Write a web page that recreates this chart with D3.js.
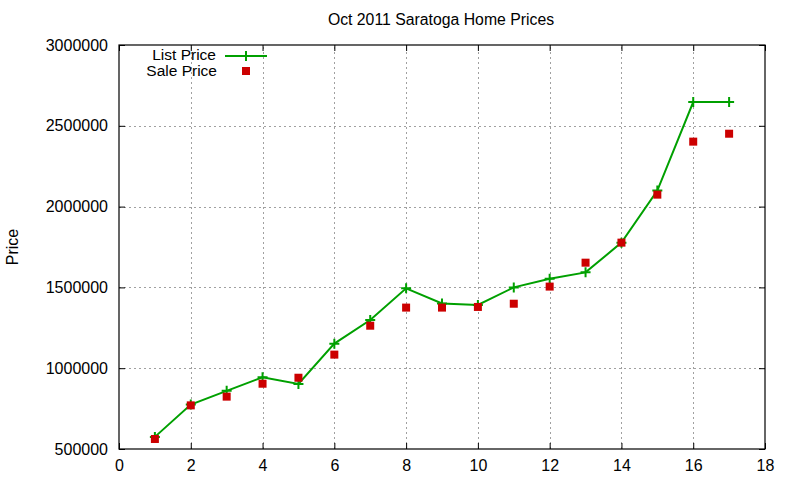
<!DOCTYPE html>
<html>
<head>
<meta charset="utf-8">
<script src="https://cdn.jsdelivr.net/npm/d3@7/dist/d3.min.js"></script>
<style>
  body { margin: 0; background: #fff; }
  text { font-family: "Liberation Sans", Arial, sans-serif; fill: #000; }
</style>
</head>
<body>
<div id="chart"></div>
<script>
// Data
const homes = [1, 2, 3, 4, 5, 6, 7, 8, 9, 10, 11, 12, 13, 14, 15, 16, 17];
const listPrice = [575000, 775000, 860000, 944000, 902000, 1152000, 1298000, 1494000, 1401000, 1391000,
                   1500000, 1554000, 1593000, 1777000, 2099000, 2647000, 2647000];
const salePrice = [562000, 770000, 824000, 904000, 941000, 1084000, 1263000, 1375000, 1375000, 1379000,
                   1399000, 1505000, 1653000, 1777000, 2074000, 2402000, 2451000];
const xTicks = [0, 2, 4, 6, 8, 10, 12, 14, 16, 18];
const yTicks = [500000, 1000000, 1500000, 2000000, 2500000, 3000000];

const W = 800, H = 480;
const margin = { top: 45, right: 35, bottom: 31, left: 119 };

const svg = d3.select("#chart").append("svg")
    .attr("width", W)
    .attr("height", H);

const x = d3.scaleLinear().domain([0, 18]).range([margin.left, W - margin.right]);
const y = d3.scaleLinear().domain([500000, 3000000]).range([H - margin.bottom, margin.top]);

// Grid
const grid = svg.append("g")
    .attr("stroke", "#a0a0a0")
    .attr("stroke-width", 1)
    .attr("stroke-dasharray", "2,3");

grid.selectAll(".gx")
    .data(xTicks.slice(1, -1))
    .enter().append("line")
    .attr("x1", d => Math.round(x(d)) + 0.5).attr("x2", d => Math.round(x(d)) + 0.5)
    .attr("y1", y(500000)).attr("y2", y(3000000));

grid.selectAll(".gy")
    .data(yTicks.slice(1, -1))
    .enter().append("line")
    .attr("y1", d => Math.round(y(d)) + 0.5).attr("y2", d => Math.round(y(d)) + 0.5)
    .attr("x1", x(0)).attr("x2", x(18));

// Axes (gnuplot style, ticks inward and mirrored)
const tick = 6;
svg.append("g")
    .attr("transform", `translate(0,${y(500000)})`)
    .call(d3.axisBottom(x).tickValues(xTicks).tickSizeInner(-tick).tickSizeOuter(0).tickPadding(10))
    .call(g => g.selectAll("text").attr("font-size", 16).attr("dy", "0.75em"));

svg.append("g")
    .attr("transform", `translate(0,${y(3000000)})`)
    .call(d3.axisTop(x).tickValues(xTicks).tickSizeInner(-tick).tickSizeOuter(0).tickFormat(""));

svg.append("g")
    .attr("transform", `translate(${x(0)},0)`)
    .call(d3.axisLeft(y).tickValues(yTicks).tickSizeInner(-tick).tickSizeOuter(0).tickPadding(11)
        .tickFormat(d3.format("d")))
    .call(g => g.selectAll("text").attr("font-size", 16));

svg.append("g")
    .attr("transform", `translate(${x(18)},0)`)
    .call(d3.axisRight(y).tickValues(yTicks).tickSizeInner(-tick).tickSizeOuter(0).tickFormat(""));

svg.selectAll(".domain").remove();
svg.append("rect")
    .attr("x", x(0)).attr("y", y(3000000))
    .attr("width", x(18) - x(0)).attr("height", y(500000) - y(3000000))
    .attr("fill", "none").attr("stroke", "#000").attr("stroke-width", 1.2);
svg.selectAll(".tick line").attr("stroke", "#000");

// List price line
const line = d3.line()
    .x((d, i) => x(homes[i]))
    .y(d => y(d));

svg.append("path")
    .datum(listPrice)
    .attr("fill", "none")
    .attr("stroke", "#00a000")
    .attr("stroke-width", 2)
    .attr("d", line);

const plus = (sel, cx, cy) => sel.append("path")
    .attr("d", `M${cx - 5},${cy}H${cx + 5}M${cx},${cy - 5}V${cy + 5}`)
    .attr("stroke", "#00a000")
    .attr("stroke-width", 2);

listPrice.forEach((d, i) => plus(svg, x(homes[i]), y(d)));

// Sale price squares
svg.selectAll(".sale")
    .data(salePrice)
    .enter().append("rect")
    .attr("x", (d, i) => x(homes[i]) - 4)
    .attr("y", d => y(d) - 4)
    .attr("width", 8)
    .attr("height", 8)
    .attr("fill", "#cc0000");

// Title and labels
svg.append("text")
    .attr("x", 441).attr("y", 25)
    .attr("text-anchor", "middle")
    .attr("font-size", 15.8)
    .text("Oct 2011 Saratoga Home Prices");

svg.append("text")
    .attr("transform", "translate(18,247) rotate(-90)")
    .attr("text-anchor", "middle")
    .attr("font-size", 16)
    .text("Price");

// Legend
const legend = svg.append("g");
legend.append("text")
    .attr("x", 216).attr("y", 60)
    .attr("text-anchor", "end")
    .attr("font-size", 15.5)
    .text("List Price");
legend.append("line")
    .attr("x1", 225).attr("x2", 267).attr("y1", 56).attr("y2", 56)
    .attr("stroke", "#00a000").attr("stroke-width", 2);
plus(legend, 246, 56);

legend.append("text")
    .attr("x", 217).attr("y", 76)
    .attr("text-anchor", "end")
    .attr("font-size", 15.5)
    .text("Sale Price");
legend.append("rect")
    .attr("x", 242).attr("y", 67).attr("width", 8).attr("height", 8)
    .attr("fill", "#cc0000");
</script>
</body>
</html>
